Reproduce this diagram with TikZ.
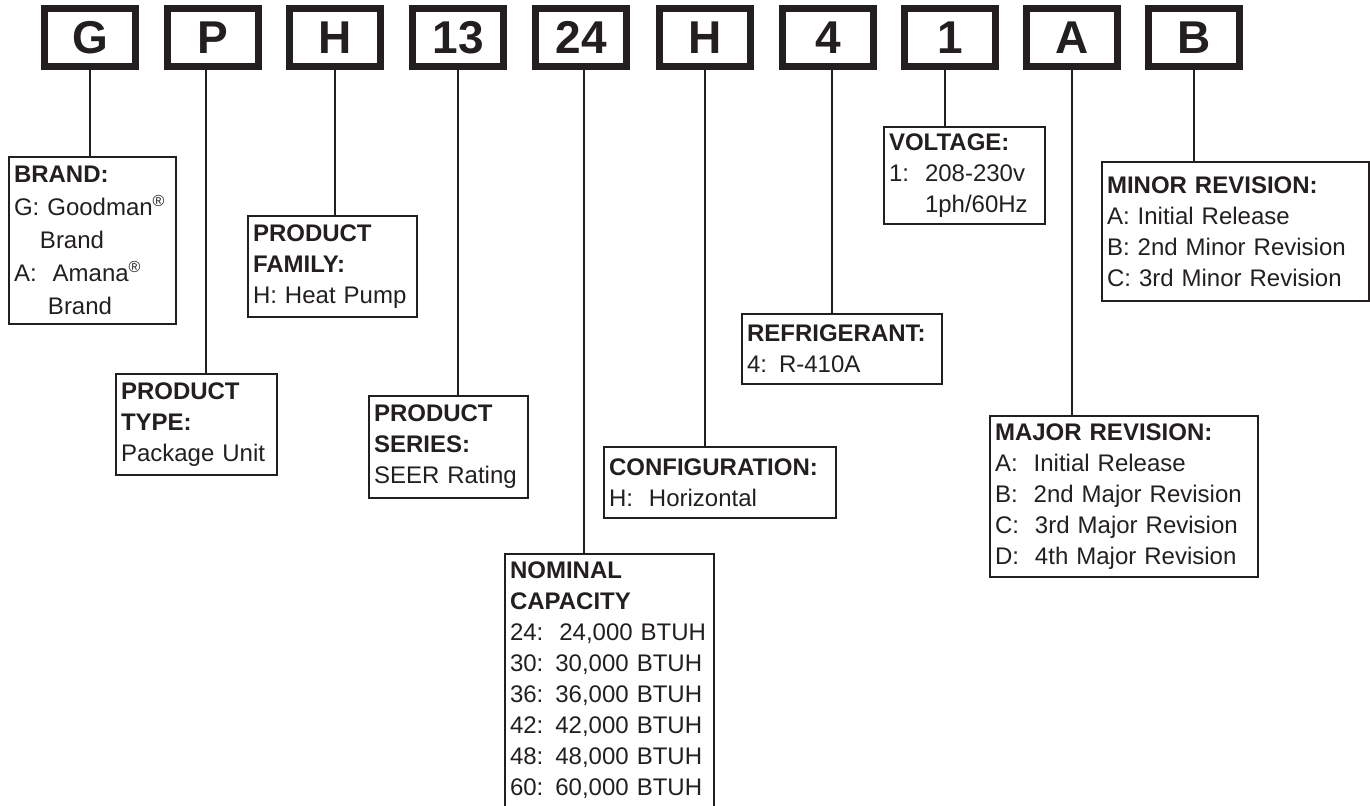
\documentclass[tikz,border=0pt]{standalone}
\usepackage{fontspec}
\setmainfont{Liberation Sans}
\usepackage{tikz}
\definecolor{ink}{RGB}{35,31,32}

\begin{document}
\begin{tikzpicture}[x=0.5pt,y=-0.5pt,
  codebox/.style={draw=ink,text=ink,line width=3.5pt,minimum width=45.5pt,minimum height=29pt,
                  inner sep=0pt,font=\fontsize{23}{27}\selectfont\bfseries},
  infobox/.style={draw=ink,text=ink,line width=1pt,anchor=north west,align=left,
                  inner xsep=2.5pt,inner ysep=3pt,font=\fontsize{12}{15.5}\selectfont},
  link/.style={draw=ink,line width=1pt}]
  \useasboundingbox (0,0) rectangle (1370,806);
  \clip (0,0) rectangle (1370,806);

  \node[codebox] (cG)  at (90,37.5)   {G};
  \node[codebox] (cP)  at (213,37.5)  {P};
  \node[codebox] (cH)  at (335,37.5)  {H};
  \node[codebox] (c13) at (458,37.5)  {13};
  \node[codebox] (c24) at (581,37.5)  {24};
  \node[codebox] (cHz) at (705,37.5)  {H};
  \node[codebox] (c4)  at (828,37.5)  {4};
  \node[codebox] (c1)  at (950,37.5)  {1};
  \node[codebox] (cA)  at (1072,37.5) {A};
  \node[codebox] (cB)  at (1194,37.5) {B};

  \node[infobox,minimum width=83.5pt,minimum height=83.5pt,text width=78.5pt,
        font=\fontsize{12}{16.5}\selectfont] (brand) at (8,156)
    {\textbf{BRAND:}\\G: Goodman\textsuperscript{®}\\\hspace*{13pt}Brand\\
     A:~~Amana\textsuperscript{®}\\\hspace*{17pt}Brand};
  \node[infobox,minimum width=80.5pt,minimum height=50.5pt,text width=75.5pt] (ptype) at (115,373)
    {\textbf{PRODUCT}\\\textbf{TYPE:}\\Package Unit};
  \node[infobox,minimum width=84.5pt,minimum height=50.5pt,text width=79.5pt] (pfamily) at (247,215)
    {\textbf{PRODUCT}\\\textbf{FAMILY:}\\H: Heat Pump};
  \node[infobox,minimum width=79.5pt,minimum height=51pt,text width=74.5pt] (pseries) at (368,395)
    {\textbf{PRODUCT}\\\textbf{SERIES:}\\SEER Rating};
  \node[infobox,minimum width=104.5pt,text width=99.5pt,text depth=140pt,inner ysep=4pt] (nomcap) at (504,553)
    {\textbf{NOMINAL}\\\textbf{CAPACITY}\\24:~~24,000 BTUH\\30: 30,000 BTUH\\36: 36,000 BTUH\\
     42: 42,000 BTUH\\48: 48,000 BTUH\\60: 60,000 BTUH};
  \node[infobox,minimum width=116pt,minimum height=35.5pt,text width=111pt] (config) at (603,446)
    {\textbf{CONFIGURATION:}\\H:~~Horizontal};
  \node[infobox,minimum width=100pt,minimum height=35pt,text width=95pt] (refrig) at (741,313)
    {\textbf{REFRIGERANT:}\\4: R-410A};
  \node[infobox,minimum width=80.5pt,minimum height=48.5pt,text width=75.5pt] (volt) at (883,126)
    {\textbf{VOLTAGE:}\\1:~~208-230v\\\phantom{1:~~}1ph/60Hz};
  \node[infobox,minimum width=133.5pt,minimum height=69.5pt,text width=128.5pt] (minor) at (1101,161)
    {\textbf{MINOR REVISION:}\\A: Initial Release\\B: 2nd Minor Revision\\C: 3rd Minor Revision};
  \node[infobox,minimum width=134pt,minimum height=80.5pt,text width=129pt] (major) at (989,415)
    {\textbf{MAJOR REVISION:}\\A:~~Initial Release\\B:~~2nd Major Revision\\
     C:~~3rd Major Revision\\D:~~4th Major Revision};

  \draw[link] ([xshift=-3.5pt]cP.south) -- ([xshift=-3.5pt]cP.south |- ptype.north);
  \draw[link] (cG.south)  -- (cG.south |- brand.north);
  \draw[link] (cH.south)  -- (cH.south |- pfamily.north);
  \draw[link] (c13.south) -- (c13.south |- pseries.north);
  \draw[link] ([xshift=1.5pt]c24.south) -- ([xshift=1.5pt]c24.south |- nomcap.north);
  \draw[link] (cHz.south) -- (cHz.south |- config.north);
  \draw[link] ([xshift=2pt]c4.south) -- ([xshift=2pt]c4.south |- refrig.north);
  \draw[link] ([xshift=-2.5pt]c1.south) -- ([xshift=-2.5pt]c1.south |- volt.north);
  \draw[link] (cA.south)  -- (cA.south |- major.north);
  \draw[link] (cB.south)  -- (cB.south |- minor.north);
\end{tikzpicture}
\end{document}
